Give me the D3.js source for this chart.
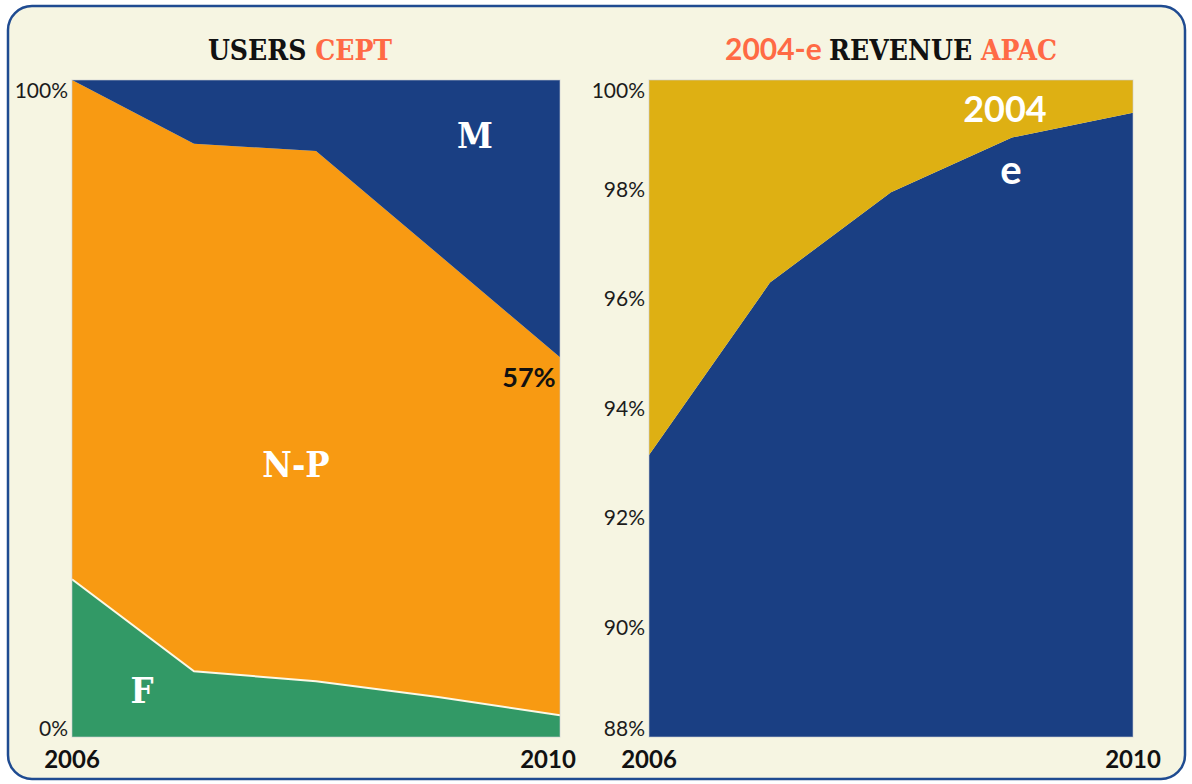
<!DOCTYPE html>
<html>
<head>
<meta charset="utf-8">
<script src="https://cdn.jsdelivr.net/npm/d3@7"></script>
<style>
  html, body { margin: 0; padding: 0; background: #ffffff; }
  svg { display: block; }
</style>
</head>
<body>
<div id="chart"></div>
<script>
const years = [2006, 2007, 2008, 2009, 2010];

// left panel: share of users, stacked to 100%
const usersF  = [24.0, 10.0, 8.5, 6.1, 3.3];
const usersNP = [76.0, 80.3, 80.7, 67.4, 54.5];
const usersM  = [0.0, 9.7, 10.8, 26.5, 42.2];

// right panel: revenue share, 88%..100%
const revE    = [93.15, 96.3, 97.95, 98.95, 99.4];
const rev2004 = [6.85, 3.7, 2.05, 1.05, 0.6];

const leftTicks = [0, 100];
const rightTicks = [88, 90, 92, 94, 96, 98, 100];

const W = 1192, H = 784;
const BLUE = "#1a3f83", ORANGE = "#f89a12", GREEN = "#329966", GOLD = "#deb013";
const CORAL = "#ff6a45", CREAM = "#f6f5e2";
const SLAB = "'DejaVu Serif Condensed', 'DejaVu Serif', serif";
const SANS = "Lato, 'DejaVu Sans', sans-serif";

const svg = d3.select("#chart").append("svg")
  .attr("width", W)
  .attr("height", H);

svg.append("rect")
  .attr("x", 8).attr("y", 6)
  .attr("width", 1177).attr("height", 773)
  .attr("rx", 24)
  .attr("fill", CREAM)
  .attr("stroke", "#1f4b91")
  .attr("stroke-width", 2.5);

const defs = svg.append("defs");

function drawPanel(opt) {
  const x = d3.scaleLinear().domain([2006, 2010]).range([opt.x0, opt.x1]);
  const y = d3.scaleLinear().domain(opt.domain).range([737, 80]);

  const rows = years.map((yr, i) => {
    const r = {year: yr};
    opt.keys.forEach((k, j) => { r[k] = opt.series[j][i]; });
    return r;
  });
  const stacked = d3.stack().keys(opt.keys)(rows);

  defs.append("clipPath").attr("id", opt.id)
    .append("rect")
    .attr("x", opt.x0).attr("y", 80)
    .attr("width", opt.x1 - opt.x0).attr("height", 657);

  const area = d3.area()
    .x(d => x(d.data.year))
    .y0(d => y(d[0]))
    .y1(d => y(d[1]));

  const g = svg.append("g").attr("clip-path", `url(#${opt.id})`);
  g.selectAll("path.layer")
    .data(stacked)
    .join("path")
    .attr("class", "layer")
    .attr("fill", (d, i) => opt.colors[i])
    .attr("d", area);

  if (opt.divider !== null) {
    const line = d3.line()
      .x(d => x(d.data.year))
      .y(d => y(d[1]));
    g.append("path")
      .attr("d", line(stacked[opt.divider]))
      .attr("fill", "none")
      .attr("stroke", "#fbf8e6")
      .attr("stroke-width", 2);
  }

  svg.append("rect")
    .attr("x", opt.x0).attr("y", 80)
    .attr("width", opt.x1 - opt.x0).attr("height", 657)
    .attr("fill", "none")
    .attr("stroke", "#c9ccd2")
    .attr("stroke-width", 1)
    .attr("opacity", 0.6);

  // y tick labels
  svg.append("g").selectAll("text")
    .data(opt.ticks)
    .join("text")
    .attr("x", opt.x0 - 4)
    .attr("y", d => Math.min(729, Math.max(91, y(d))))
    .attr("dy", "0.35em")
    .attr("text-anchor", "end")
    .attr("font-family", SANS)
    .attr("font-weight", 400)
    .attr("font-size", 21)
    .attr("fill", "#1c1c1c")
    .text(d => d + "%");

  // x end labels
  svg.append("g").selectAll("text")
    .data([2006, 2010])
    .join("text")
    .attr("x", d => x(d) + (d === 2010 ? opt.endShift : 0))
    .attr("y", 768)
    .attr("text-anchor", "middle")
    .attr("font-family", SANS)
    .attr("font-weight", 700)
    .attr("font-size", 24)
    .attr("fill", "#111")
    .text(d => d);

  // title
  const t = svg.append("text")
    .attr("x", opt.titleX)
    .attr("y", 60)
    .attr("text-anchor", "middle")
    .attr("font-weight", 700);
  opt.title.forEach(p => {
    t.append("tspan")
      .attr("font-family", p.sans ? SANS : SLAB)
      .attr("font-size", p.sans ? 30 : 28)
      .attr("fill", p.color)
      .text(p.text);
  });

  // labels in areas
  opt.labels.forEach(l => {
    svg.append("text")
      .attr("x", l.x).attr("y", l.y)
      .attr("text-anchor", "middle")
      .attr("font-family", l.sans ? SANS : SLAB)
      .attr("font-weight", 700)
      .attr("font-size", l.size)
      .attr("fill", l.color)
      .text(l.text);
  });
}

drawPanel({
  id: "clipL",
  x0: 72, x1: 560,
  domain: [0, 100],
  keys: ["F", "N-P", "M"],
  series: [usersF, usersNP, usersM],
  colors: [GREEN, ORANGE, BLUE],
  divider: 0,
  ticks: leftTicks,
  endShift: -12,
  titleX: 300,
  title: [{text: "USERS ", color: "#111"}, {text: "CEPT", color: CORAL}],
  labels: [
    {text: "M", x: 475, y: 148, size: 36, color: "#fff"},
    {text: "N-P", x: 296, y: 477, size: 36, color: "#fff"},
    {text: "F", x: 142, y: 703, size: 36, color: "#fff"},
    {text: "57%", x: 529, y: 387, size: 27, color: "#111", sans: true}
  ]
});

drawPanel({
  id: "clipR",
  x0: 649, x1: 1133,
  domain: [88, 100],
  keys: ["e", "2004"],
  series: [revE, rev2004],
  colors: [BLUE, GOLD],
  divider: null,
  ticks: rightTicks,
  endShift: 0,
  titleX: 891,
  title: [
    {text: "2004-e ", color: CORAL, sans: true},
    {text: "REVENUE ", color: "#111"},
    {text: "APAC", color: CORAL}
  ],
  labels: [
    {text: "2004", x: 1005, y: 122, size: 36, color: "#fff", sans: true},
    {text: "e", x: 1011, y: 184, size: 40, color: "#fff", sans: true}
  ]
});
</script>
</body>
</html>
